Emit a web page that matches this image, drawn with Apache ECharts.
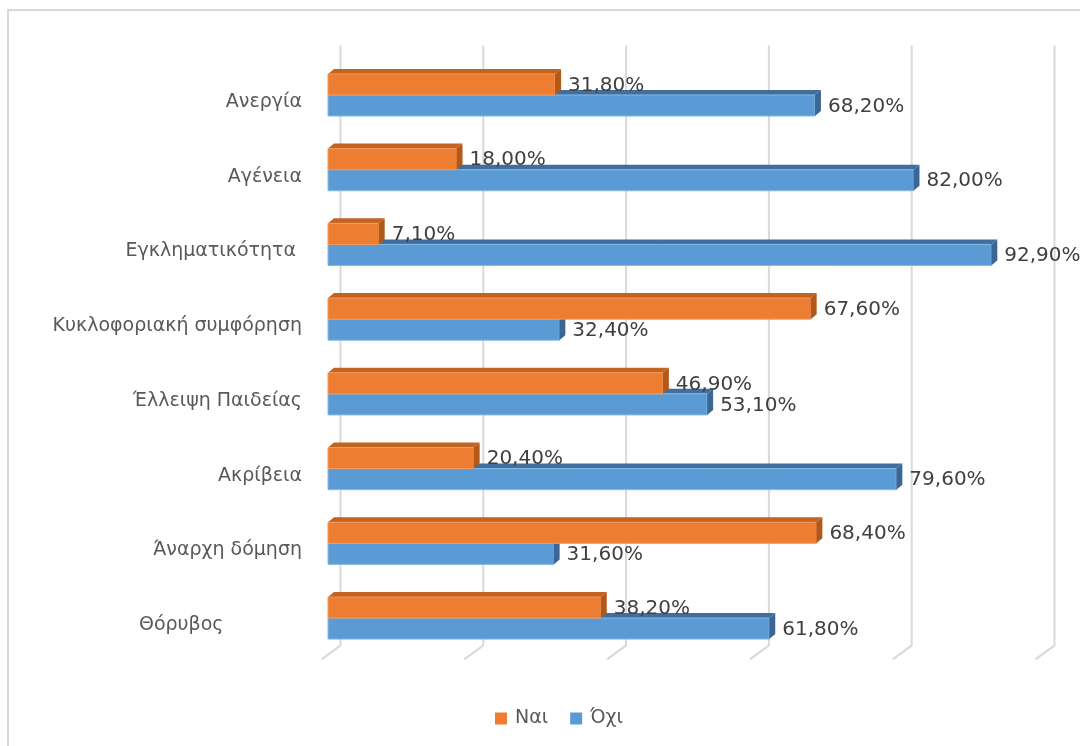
<!DOCTYPE html>
<html>
<head>
<meta charset="utf-8">
<style>
  html, body { margin: 0; padding: 0; background: #ffffff; }
  #chart { width: 1080px; height: 746px; }
</style>
<script src="https://cdn.jsdelivr.net/npm/echarts@6/dist/echarts.min.js"></script>
</head>
<body>
<div id="chart"></div>
<script>
// Survey answers per problem (percent of respondents)
const categories = [
  'Ανεργία',
  'Αγένεια',
  'Εγκληματικότητα ',
  'Κυκλοφοριακή συμφόρηση',
  'Έλλειψη Παιδείας',
  'Ακρίβεια',
  'Άναρχη δόμηση',
  'Θόρυβος             '
];
const yesValues = [31.8, 18.0, 7.1, 67.6, 46.9, 20.4, 68.4, 38.2];
const noValues  = [68.2, 82.0, 92.9, 32.4, 53.1, 79.6, 31.6, 61.8];
const gridTicks = [0, 20, 40, 60, 80, 100];
const seriesNames = ['Ναι', 'Όχι'];

const FONT = 'DejaVu Sans';
const DEPTH_X = 6, DEPTH_Y = 5;

function fmtPct(v) {
  return v.toFixed(2).replace('.', ',') + '%';
}

// Excel-style 3D bar: front face, top face and right side face
function bar3d(slot, colors) {
  return function (params, api) {
    const idx = api.value(0);
    const val = api.value(1);
    const end = api.coord([val, idx]);
    const start = api.coord([0, idx]);
    const band = api.size([0, 1])[1];
    const h = band * 0.282;
    const top = slot === 0 ? end[1] - h : end[1];
    const x0 = start[0], x1 = end[0];
    return {
      type: 'group',
      children: [
        {
          type: 'polygon',
          shape: { points: [[x0, top], [x1, top], [x1 + DEPTH_X, top - DEPTH_Y], [x0 + DEPTH_X, top - DEPTH_Y]] },
          style: { fill: colors.top }
        },
        {
          type: 'rect',
          shape: { x: x0, y: top, width: x1 - x0, height: h },
          style: { fill: colors.front, stroke: colors.edge, lineWidth: 1 }
        },
        {
          type: 'polygon',
          shape: { points: [[x1, top], [x1 + DEPTH_X, top - DEPTH_Y], [x1 + DEPTH_X, top + h - DEPTH_Y], [x1, top + h]] },
          style: { fill: colors.side }
        },
        {
          type: 'text',
          z2: 50,
          style: {
            x: x1 + 13,
            y: top + h / 2 + 1,
            text: fmtPct(val),
            fill: '#404040',
            font: '20px "' + FONT + '"',
            verticalAlign: 'middle',
            align: 'left'
          }
        }
      ]
    };
  };
}

const orange = { front: '#ED7D31', top: '#C4621F', side: '#B35817', edge: '#F19A5F' };
const blue = { front: '#5B9BD5', top: '#3F6F9E', side: '#3A6795', edge: '#8AB8E2' };

const chart = echarts.init(document.getElementById('chart'), null, { renderer: 'canvas' });

chart.setOption({
  backgroundColor: '#ffffff',
  animation: false,
  textStyle: { fontFamily: FONT },
  graphic: [
    {
      type: 'rect',
      shape: { x: 8, y: 10, width: 1200, height: 900 },
      style: { fill: null, stroke: '#d9d9d9', lineWidth: 2 },
      silent: true
    }
  ],
  legend: {
    data: seriesNames,
    left: 490,
    top: 704,
    icon: 'rect',
    itemWidth: 12,
    itemHeight: 12,
    itemGap: 22,
    textStyle: { color: '#595959', fontSize: 19, fontFamily: FONT, padding: [0, 0, 0, 3] }
  },
  grid: { left: 328, right: 38, top: 57.6, bottom: 90.6, containLabel: false },
  xAxis: {
    type: 'value',
    min: 0,
    max: 100,
    interval: 20,
    axisLabel: { show: false },
    axisLine: { show: false },
    axisTick: { show: false },
    splitLine: { show: false }
  },
  yAxis: {
    type: 'category',
    data: categories,
    inverse: true,
    axisLine: { show: false },
    axisTick: { show: false },
    axisLabel: {
      color: '#595959',
      fontSize: 19,
      fontFamily: FONT,
      margin: 26,
      verticalAlign: 'top',
      lineHeight: 14
    }
  },
  series: [
    {
      name: 'grid',
      type: 'custom',
      silent: true,
      z: 1,
      data: gridTicks.map(v => [v, 0]),
      encode: { x: 0, y: 1 },
      renderItem: function (params, api) {
        const x = api.coord([api.value(0), 0])[0];
        const cs = params.coordSys;
        const yT = cs.y - 12;
        const yB = cs.y + cs.height - 10;
        return {
          type: 'polyline',
          shape: { points: [[x + 12.5, yT], [x + 12.5, yB], [x - 6.5, yB + 14]] },
          style: { stroke: '#d9d9d9', lineWidth: 2, fill: null }
        };
      }
    },
    {
      name: 'Όχι',
      type: 'custom',
      z: 3,
      itemStyle: { color: blue.front },
      data: noValues.map((v, i) => [i, v]),
      encode: { x: 1, y: 0 },
      renderItem: bar3d(1, blue)
    },
    {
      name: 'Ναι',
      type: 'custom',
      z: 4,
      itemStyle: { color: orange.front },
      data: yesValues.map((v, i) => [i, v]),
      encode: { x: 1, y: 0 },
      renderItem: bar3d(0, orange)
    }
  ]
});
</script>
</body>
</html>
